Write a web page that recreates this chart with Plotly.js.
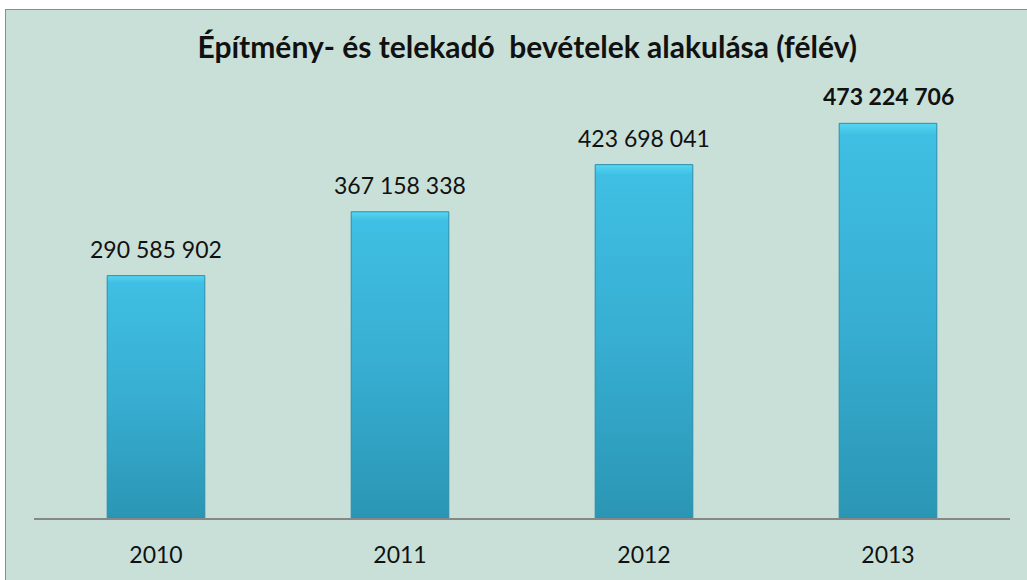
<!DOCTYPE html>
<html>
<head>
<meta charset="utf-8">
<script src="https://cdn.plot.ly/plotly-3.0.1.min.js"></script>
<style>
  html, body { margin: 0; padding: 0; background: #ffffff; width: 1027px; height: 580px; overflow: hidden; }
  #frame { position: absolute; left: 5px; top: 9px; width: 1022px; height: 571px; border-left: 1px solid #8c8c8c; border-top: 1px solid #8c8c8c; background: #c9e0d8; }
  #chart { position: absolute; left: 0; top: 0; width: 1022px; height: 571px; }
</style>
</head>
<body>
<div id="frame"><div id="chart"></div></div>
<script>
const categories = ['2010', '2011', '2012', '2013'];
const values = [290585902, 367158338, 423698041, 473224706];
const boldFlags = [false, false, false, true];
const titleText = 'Építmény- és telekadó  bevételek alakulása (félév)';

function fmt(v) {
  return String(Math.round(v)).replace(/\B(?=(\d{3})+(?!\d))/g, ' ');
}

const annotations = categories.map((c, i) => ({
  x: i, y: values[i], xref: 'x', yref: 'y',
  text: boldFlags[i] ? '<b>' + fmt(values[i]) + '</b>' : fmt(values[i]),
  showarrow: false, yanchor: 'bottom', yshift: 11,
  font: { family: 'Lato, sans-serif', size: 23, color: '#111111' }
}));

const trace = {
  type: 'bar',
  x: categories,
  y: values,
  width: 0.4,
  marker: { color: '#38b2d6', line: { color: '#2a8dab', width: 1 } },
  hoverinfo: 'none'
};

const layout = {
  width: 1022, height: 571,
  margin: { l: 28, r: 18, t: 91, b: 63 },
  paper_bgcolor: 'rgba(0,0,0,0)',
  plot_bgcolor: 'rgba(0,0,0,0)',
  title: { text: '<b>' + titleText + '</b>', x: 0.51, xanchor: 'center', y: 0.935, yanchor: 'middle',
           font: { family: 'Lato, sans-serif', size: 30, color: '#111111' } },
  xaxis: { type: 'category', range: [-0.5, categories.length - 0.5], autorange: false,
           showline: true, linecolor: '#878787', linewidth: 2, ticks: '', showgrid: false,
           tickfont: { family: 'Lato, sans-serif', size: 23, color: '#111111' }, ticklabelstandoff: 15 },
  yaxis: { range: [0, 500000000], autorange: false, visible: false, showgrid: false, zeroline: false },
  annotations: annotations,
  showlegend: false
};

Plotly.newPlot('chart', [trace], layout, { displayModeBar: false, staticPlot: true }).then(gd => {
  const svg = gd.querySelector('svg.main-svg');
  const ns = 'http://www.w3.org/2000/svg';
  let defs = svg.querySelector('defs');
  if (!defs) { defs = document.createElementNS(ns, 'defs'); svg.insertBefore(defs, svg.firstChild); }
  const g = document.createElementNS(ns, 'linearGradient');
  g.setAttribute('id', 'barGrad');
  g.setAttribute('x1', '0'); g.setAttribute('y1', '0'); g.setAttribute('x2', '0'); g.setAttribute('y2', '1');
  [['0', '#55d6f2'], ['0.03', '#3fbfe3'], ['0.5', '#37aed2'], ['1', '#2b96b4']].forEach(([o, c]) => {
    const s = document.createElementNS(ns, 'stop');
    s.setAttribute('offset', o); s.setAttribute('stop-color', c);
    g.appendChild(s);
  });
  defs.appendChild(g);
  gd.querySelectorAll('.point path').forEach(p => { p.style.fill = 'url(#barGrad)'; });
});
</script>
</body>
</html>
